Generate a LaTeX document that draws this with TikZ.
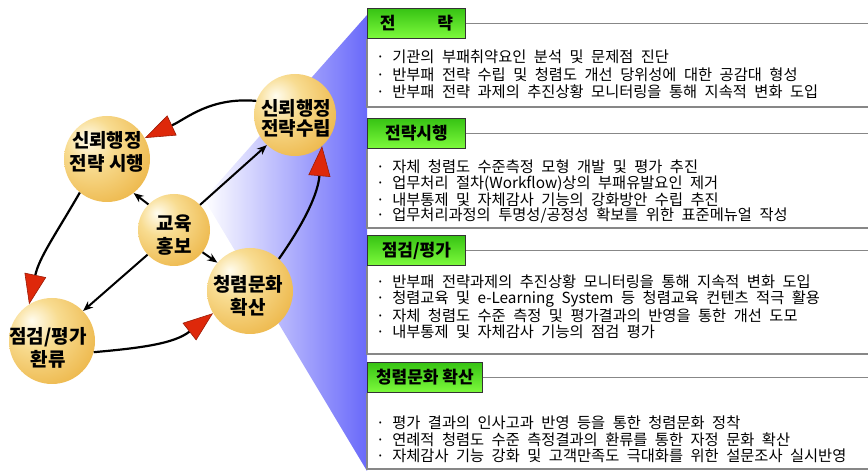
\documentclass[tikz,border=0pt]{standalone}
\usepackage{fontspec}
\usepackage{tikz}
\usetikzlibrary{arrows.meta}
\setmainfont{Noto Sans CJK KR}
\definecolor{tipred}{RGB}{222,40,10}
\definecolor{titlegreen}{RGB}{55,195,20}
\definecolor{titlelime}{RGB}{125,250,60}
\definecolor{wedgeblue}{RGB}{105,105,250}
\definecolor{panelgray}{RGB}{135,135,135}
\definecolor{goldA}{RGB}{255,252,238}
\definecolor{goldB}{RGB}{248,220,145}
\definecolor{goldC}{RGB}{236,180,68}
\definecolor{goldD}{RGB}{214,148,32}
\pgfdeclareradialshading{goldball}{\pgfpoint{-12bp}{12bp}}{%
  color(0bp)=(goldA); color(14bp)=(goldB); color(38bp)=(goldC); color(56bp)=(goldD); color(80bp)=(goldD)}
\newcommand\bodyfont[1]{\fontsize{15.3}{#1}\selectfont\fontdimen2\font=7.5pt\relax}

\begin{document}
\begin{tikzpicture}[x=1pt, y=1pt,
  sphere/.style={circle, shading=goldball, minimum size=#1, inner sep=0pt},
  ballname/.style={font=\bfseries\fontsize{19}{23}\selectfont, align=center, inner sep=0pt},
  bigarc/.style={line width=2.2pt, -{Triangle[length=30pt, width=22pt, fill=tipred, color=tipred!70!black, line width=0.6pt]}},
  smallarr/.style={line width=2pt, -{Stealth[length=10pt, width=8pt]}},
  headbox/.style={draw=black!80, line width=0.8pt, top color=titlegreen, bottom color=titlelime,
    anchor=north west, minimum width=#1, minimum height=30pt, inner sep=0pt,
    font=\bfseries\fontsize{17}{20}\selectfont},
  panelline/.style={draw=panelgray, line width=1.6pt},
  bodytext/.style={anchor=north west, align=left, inner sep=0pt, font=\bodyfont{#1}}]
  \useasboundingbox (0,0) rectangle (868,471);
  \coordinate (rim) at (868,0);

  \shade [left color=white, middle color=white, right color=wedgeblue]
    (367,456) -- (367,0) -- (204,272) -- cycle;

  \node [headbox=98] at (367,463) (t1) {전\hspace{42pt}략};
  \draw [panelline] (t1.east) -- (t1.east -| rim);
  \draw [panelline] (t1.south west) |- (868,364);
  \node [bodytext=17.5] at (376,421) (b1) {· 기관의 부패취약요인 분석 및 문제점 진단\\
    · 반부패 전략 수립 및 청렴도 개선 당위성에 대한 공감대 형성\\
    · 반부패 전략 과제의 추진상황 모니터링을 통해 지속적 변화 도입};

  \node [headbox=98] at (367,353) (t2) {전략시행};
  \draw [panelline] (t2.east) -- (t2.east -| rim);
  \draw [panelline] (t2.south west) |- (868,243);
  \node [bodytext=15.5] at (376,311) (b2) {· 자체 청렴도 수준측정 모형 개발 및 평가 추진\\
    · 업무처리 절차(Workflow)상의 부패유발요인 제거\\
    · 내부통제 및 자체감사 기능의 강화방안 수립 추진\\
    · 업무처리과정의 투명성/공정성 확보를 위한 표준메뉴얼 작성};

  \node [headbox=98] at (367,236) (t3) {점검/평가};
  \draw [panelline] (t3.east) -- (t3.east -| rim);
  \draw [panelline] (t3.south west) |- (868,117);
  \node [bodytext=16] at (376,196) (b3) {· 반부패 전략과제의 추진상황 모니터링을 통해 지속적 변화 도입\\
    · 청렴교육 및 e-Learning System 등 청렴교육 컨텐츠 적극 활용\\
    · 자체 청렴도 수준 측정 및 평가결과의 반영을 통한 개선 도모\\
    · 내부통제 및 자체감사 기능의 점검 평가};

  \node [headbox=115] at (367,109) (t4) {청렴문화 확산};
  \draw [panelline] (t4.east) -- (t4.east -| rim);
  \draw [panelline] (t4.south west) |- (868,2);
  \node [bodytext=16.5] at (376,55) (b4) {· 평가 결과의 인사고과 반영 등을 통한 청렴문화 정착\\
    · 연례적 청렴도 수준 측정결과의 환류를 통한 자정 문화 확산\\
    · 자체감사 기능 강화 및 고객만족도 극대화를 위한 설문조사 실시반영};

  \node [sphere=82] at (295,356) (sr) {};
  \node [sphere=86] at (107,312) (sh) {};
  \node [sphere=72] at (174,241) (gy) {};
  \node [sphere=86] at (250,180) (cm) {};
  \node [sphere=86] at (52,130) (jg) {};

  \draw [bigarc] (sr.160) to[out=175, in=25] (sh.29);
  \draw [bigarc] (sh.231) to[out=240, in=78] (jg.122);
  \draw [bigarc] (jg.-15) to[out=5, in=218] (cm.211);
  \draw [bigarc] (cm.48) to[out=55, in=265] (sr.-49);

  \draw [smallarr] (gy.44) -- (sr.227);
  \draw [smallarr] (gy.135) -- (sh.-52);
  \draw [smallarr] (gy.-38) -- (cm.139);
  \draw [smallarr] (gy.223) -- (jg.44);

  \node [ballname] at (296,353) (srt) {신뢰행정\\[-3pt]전략수립};
  \node [ballname] at (107,319) (sht) {신뢰행정\\전략 시행};
  \node [ballname] at (174,236) (gyt) {교육\\홍보};
  \node [ballname] at (248,175) (cmt) {청렴문화\\확산};
  \node [ballname] at (48,123) (jgt) {점검/평가\\환류};
\end{tikzpicture}
\end{document}
